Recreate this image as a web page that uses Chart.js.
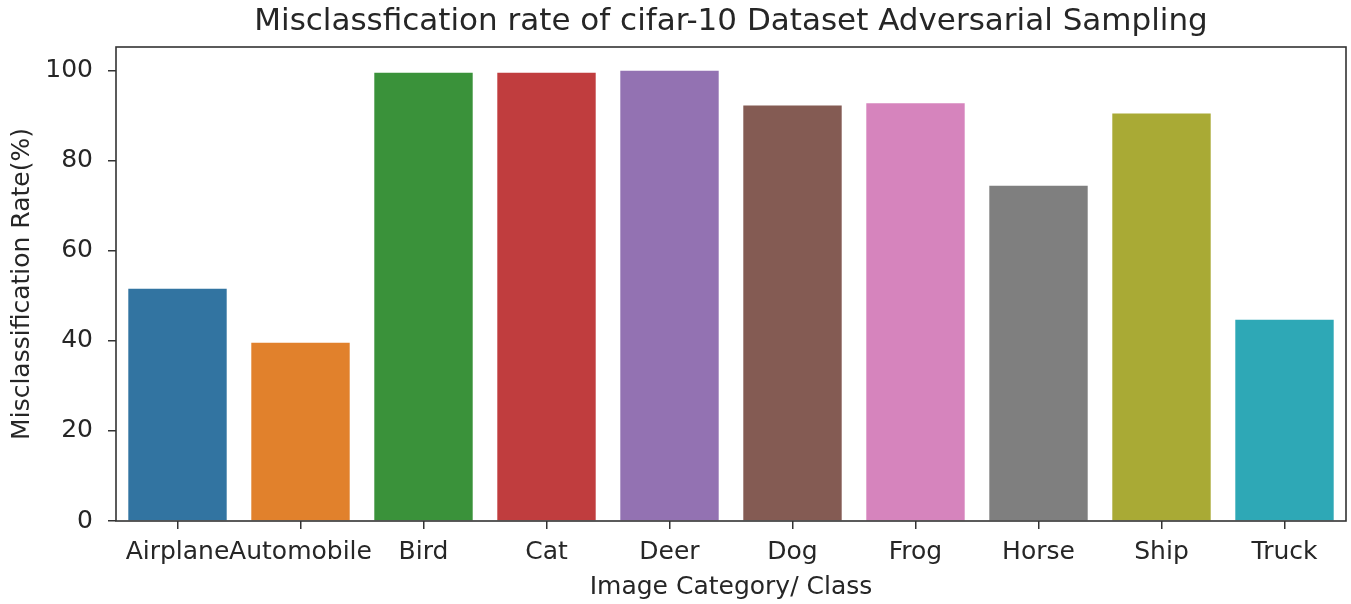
<!DOCTYPE html>
<html>
<head>
<meta charset="utf-8">
<script src="https://cdn.jsdelivr.net/npm/chart.js@4/dist/chart.umd.min.js"></script>
<style>
  html, body { margin: 0; padding: 0; background: #fff; }
  #wrap { width: 1351px; height: 604px; }
</style>
</head>
<body>
<div id="wrap"><canvas id="chart" width="1351" height="604"></canvas></div>
<script>
'use strict';

// values
const categories = ['Airplane', 'Automobile', 'Bird', 'Cat', 'Deer', 'Dog', 'Frog', 'Horse', 'Ship', 'Truck'];
const rates = [51.6, 39.6, 99.6, 99.6, 100.0, 92.3, 92.8, 74.5, 90.5, 44.7];
const yTicks = [0, 20, 40, 60, 80, 100];
const barColors = ['#3274a1', '#e1812c', '#3a923a', '#c03d3e', '#9372b2',
                   '#845b53', '#d684bd', '#7f7f7f', '#a9aa35', '#2ea8b6'];

const FONT = 'DejaVu Sans';
const TEXT = '#262626';
const AXIS = '#333333';
const LABEL_SIZE = 25;

// box round the plot area, like the matplotlib spines
const frame = {
  id: 'frame',
  afterDraw(chart) {
    const a = chart.chartArea;
    const ctx = chart.ctx;
    ctx.save();
    ctx.strokeStyle = AXIS;
    ctx.lineWidth = 1.6;
    ctx.strokeRect(a.left, a.top, a.right - a.left, a.bottom - a.top);
    ctx.restore();
  }
};

new Chart(document.getElementById('chart'), {
  type: 'bar',
  data: {
    labels: categories,
    datasets: [{
      data: rates,
      backgroundColor: barColors,
      borderWidth: 0,
      categoryPercentage: 1.0,
      barPercentage: 0.8
    }]
  },
  options: {
    responsive: false,
    animation: false,
    layout: { padding: { left: 0, right: 5, top: 0, bottom: 0 } },
    plugins: {
      legend: { display: false },
      tooltip: { enabled: false },
      title: {
        display: true,
        fullSize: false,
        text: 'Misclassfication rate of cifar-10 Dataset Adversarial Sampling',
        color: TEXT,
        font: { family: FONT, size: 31, weight: 'normal' },
        padding: { top: 3, bottom: 6.8 }
      }
    },
    scales: {
      x: {
        offset: true,
        grid: { display: true, drawOnChartArea: false, offset: false, tickLength: 8, tickColor: AXIS, lineWidth: 1.5 },
        border: { display: false },
        ticks: { color: TEXT, font: { family: FONT, size: LABEL_SIZE }, padding: 8, maxRotation: 0, autoSkip: false },
        title: {
          display: true,
          text: 'Image Category/ Class',
          color: TEXT,
          font: { family: FONT, size: LABEL_SIZE },
          padding: { top: 0, bottom: 2 }
        },
        afterFit(scale) { scale.height = 83; }
      },
      y: {
        min: 0,
        max: 105.3,
        grid: { display: true, drawOnChartArea: false, tickLength: 8, tickColor: AXIS, lineWidth: 1.5 },
        border: { display: false },
        afterBuildTicks(scale) { scale.ticks = yTicks.map(v => ({ value: v })); },
        ticks: { color: TEXT, font: { family: FONT, size: LABEL_SIZE }, padding: 15 },
        title: {
          display: true,
          text: 'Misclassification Rate(%)',
          color: TEXT,
          font: { family: FONT, size: LABEL_SIZE },
          padding: { top: 7, bottom: 0 }
        },
        afterFit(scale) { scale.width = 116; }
      }
    }
  },
  plugins: [frame]
});
</script>
</body>
</html>
